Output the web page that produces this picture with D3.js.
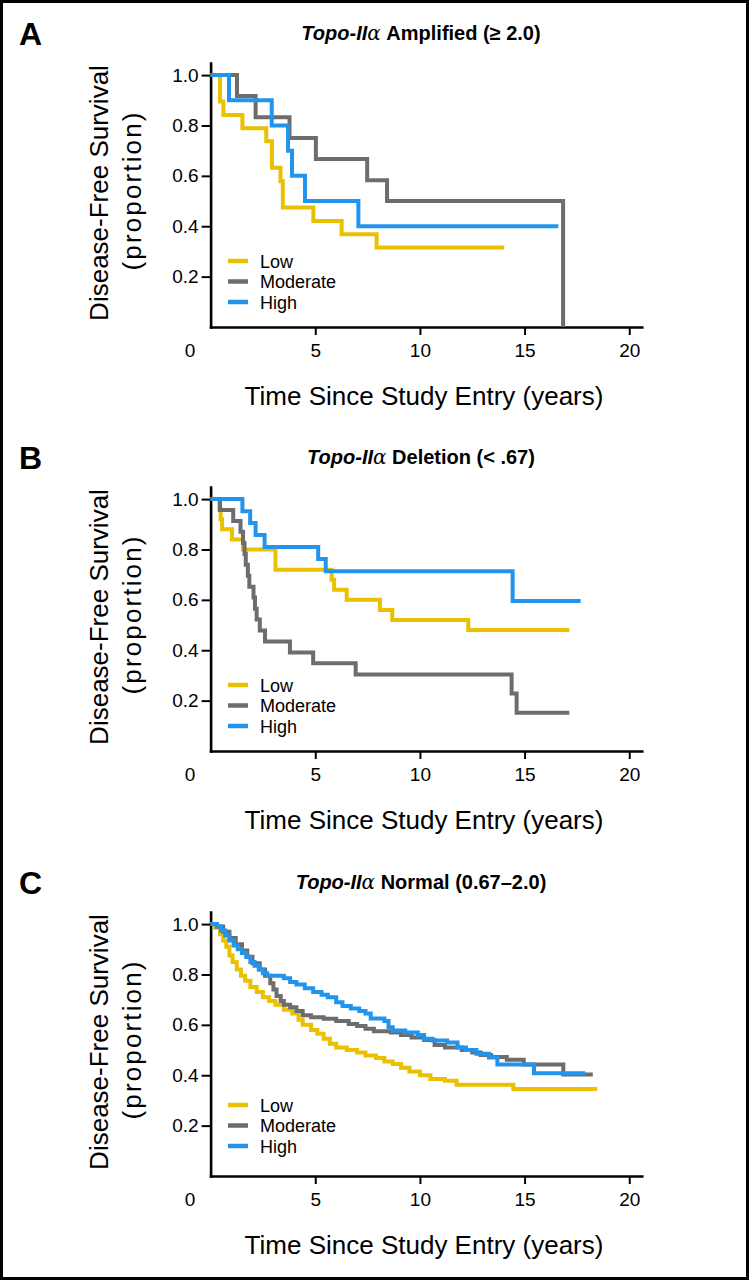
<!DOCTYPE html>
<html><head><meta charset="utf-8">
<script src="https://cdn.jsdelivr.net/npm/d3@7"></script>
<style>body{margin:0;background:#fff}svg{display:block;font-family:"Liberation Sans",Arial,sans-serif}</style>
</head><body>
<svg id="chart" width="749" height="1280"></svg>
<script>
// ---- data ----
const timeTicks = [0, 5, 10, 15, 20];
const survTicks = [0.2, 0.4, 0.6, 0.8, 1.0];
const groups = ["Low", "Moderate", "High"];
const groupColors = ["#EBC000", "#6D6D6D", "#2194EE"];
const panelLetters = ["A", "B", "C"];
const titleItalic = ["Topo-II", "Topo-II", "Topo-II"];
const titleGreek = ["\u03b1", "\u03b1", "\u03b1"];
const titleRest = [" Amplified (\u2265 2.0)", " Deletion (< .67)", " Normal (0.67\u20132.0)"];
const yTitle1 = "Disease-Free Survival";
const yTitle2 = "(proportion)";
const xTitle = "Time Since Study Entry (years)";

// Panel A: amplified  [years, proportion]
const ampLow = [[0,1],[0.45,0.895],[0.61,0.842],[1.52,0.789],[2.66,0.737],[2.93,0.632],[3.34,0.579],[3.45,0.474],[4.91,0.421],[6.26,0.368],[7.93,0.316],[14.03,0.316]];
const ampModerate = [[0,1],[1.26,0.917],[2.15,0.833],[3.77,0.75],[5.03,0.667],[7.48,0.583],[8.43,0.5],[16.84,0]];
const ampHigh = [[0,1],[0.88,0.9],[2.92,0.8],[3.7,0.7],[3.89,0.6],[4.51,0.5],[7.06,0.4],[16.61,0.4]];

// Panel B: deletion
const delLow = [[0,1],[0.42,0.96],[0.48,0.92],[0.55,0.88],[1.02,0.84],[1.55,0.80],[3.1,0.72],[5.78,0.68],[5.9,0.64],[6.5,0.60],[8.09,0.56],[8.68,0.52],[12.31,0.48],[17.14,0.48]];
const delModerate = [[0,1],[0.45,0.957],[1.08,0.913],[1.43,0.870],[1.55,0.826],[1.62,0.783],[1.68,0.739],[1.78,0.696],[1.85,0.652],[2.05,0.609],[2.12,0.565],[2.2,0.522],[2.35,0.478],[2.6,0.435],[3.79,0.391],[4.9,0.348],[6.93,0.304],[14.38,0.228],[14.62,0.152],[17.14,0.152]];
const delHigh = [[0,1],[1.52,0.952],[1.89,0.905],[2.15,0.857],[2.58,0.81],[5.14,0.762],[5.5,0.714],[14.43,0.595],[17.68,0.595]];

// Panel C: normal
const normLow = [[0,1],[0.2,0.985],[0.45,0.96],[0.6,0.935],[0.75,0.91],[0.9,0.875],[1.05,0.85],[1.25,0.82],[1.45,0.795],[1.65,0.775],[1.9,0.75],[2.2,0.73],[2.5,0.71],[2.8,0.695],[3.1,0.68],[3.5,0.66],[3.9,0.645],[4.2,0.62],[4.4,0.6],[4.8,0.58],[5.1,0.565],[5.4,0.545],[5.7,0.525],[6.0,0.51],[6.5,0.5],[7.0,0.49],[7.4,0.478],[7.9,0.468],[8.3,0.455],[8.7,0.445],[9.1,0.43],[9.5,0.415],[10.0,0.4],[10.5,0.385],[11.2,0.378],[11.75,0.362],[14.46,0.345],[18.47,0.345]];
const normModerate = [[0,1],[0.3,0.99],[0.6,0.97],[0.9,0.945],[1.2,0.92],[1.5,0.895],[1.75,0.87],[2.0,0.845],[2.35,0.82],[2.6,0.795],[2.85,0.765],[3.0,0.74],[3.15,0.715],[3.35,0.695],[3.5,0.68],[3.8,0.67],[4.1,0.655],[4.4,0.638],[4.8,0.63],[5.4,0.624],[6.0,0.615],[6.6,0.603],[7.0,0.595],[7.4,0.585],[7.8,0.575],[8.6,0.57],[9.1,0.56],[9.6,0.55],[10.2,0.54],[10.7,0.52],[11.2,0.51],[12.0,0.5],[12.5,0.49],[12.9,0.48],[13.4,0.472],[14.15,0.461],[14.96,0.443],[16.85,0.403],[18.26,0.403]];
const normHigh = [[0,1],[0.3,0.99],[0.5,0.975],[0.7,0.955],[0.9,0.935],[1.1,0.915],[1.3,0.9],[1.5,0.885],[1.7,0.87],[1.9,0.85],[2.1,0.835],[2.3,0.82],[2.5,0.805],[2.7,0.795],[3.5,0.785],[3.8,0.77],[4.1,0.76],[4.5,0.745],[4.9,0.73],[5.3,0.72],[5.6,0.71],[6.0,0.69],[6.3,0.675],[6.7,0.665],[7.1,0.655],[7.4,0.645],[7.65,0.625],[8.3,0.615],[8.5,0.59],[8.7,0.578],[9.3,0.57],[9.9,0.56],[10.2,0.545],[10.6,0.538],[11.3,0.53],[11.8,0.51],[12.2,0.5],[12.7,0.485],[13.3,0.47],[13.7,0.443],[15.45,0.408],[17.9,0.408]];

const panelSeries = [
  [ampLow, ampModerate, ampHigh],
  [delLow, delModerate, delHigh],
  [normLow, normModerate, normHigh]
];

// ---- layout ----
const panelOffsets = [0, 424, 849];
const legendTops = [261, 685, 1105];

const svg = d3.select("#chart");
svg.append("rect").attr("x",0).attr("y",0).attr("width",749).attr("height",1280).attr("fill","#fff");
svg.append("rect").attr("x",1.5).attr("y",1.5).attr("width",746).attr("height",1277)
  .attr("fill","none").attr("stroke","#000").attr("stroke-width",3);

const x = d3.scaleLinear().domain([0, 20.6]).range([210.6, 641.8]);

panelSeries.forEach((series, p) => {
  const off = panelOffsets[p];
  const y = d3.scaleLinear().domain([0, 1.048]).range([327 + off, 63 + off]);
  const g = svg.append("g");

  // panel letter
  g.append("text").attr("x", 19).attr("y", 45 + off)
    .attr("font-size", 32).attr("font-weight", "bold").text(panelLetters[p]);

  // title
  const t = g.append("text").attr("x", 421).attr("y", 40 + off)
    .attr("text-anchor", "middle").attr("font-size", 20).attr("font-weight", "bold");
  t.append("tspan").attr("font-style", "italic").text(titleItalic[p]);
  t.append("tspan").attr("font-style", "italic").attr("font-weight", "normal")
    .attr("font-family", "DejaVu Serif, serif").text(titleGreek[p]);
  t.append("tspan").text(titleRest[p]);

  // y axis
  const ya = g.append("g").attr("transform", `translate(${x(0)},0)`)
    .call(d3.axisLeft(y).tickValues(survTicks).tickFormat(d3.format(".1f"))
      .tickSize(9).tickSizeOuter(0).tickPadding(3));
  ya.select(".domain").attr("stroke-width", 2.6).attr("stroke-linecap", "square");
  ya.selectAll(".tick line").attr("stroke-width", 2);
  ya.selectAll(".tick text").attr("font-size", 19).attr("font-family", "Liberation Sans, Arial, sans-serif").attr("fill", "#000");

  // x axis
  const xa = g.append("g").attr("transform", `translate(0,${y(0)})`)
    .call(d3.axisBottom(x).tickValues(timeTicks).tickFormat(d3.format("d"))
      .tickSize(8).tickSizeOuter(0).tickPadding(8.5));
  xa.select(".domain").attr("stroke-width", 2.6).attr("stroke-linecap", "square");
  xa.selectAll(".tick line").attr("stroke-width", 2);
  xa.selectAll(".tick text").attr("font-size", 19).attr("font-family", "Liberation Sans, Arial, sans-serif").attr("fill", "#000");
  xa.selectAll(".tick").filter(d => d === 0).each(function() {
    d3.select(this).select("line").remove();
    d3.select(this).select("text").attr("x", -21);
  });

  // axis titles
  g.append("text").attr("transform", `translate(108,${193 + off}) rotate(-90)`)
    .attr("text-anchor", "middle").attr("font-size", 26).text(yTitle1);
  g.append("text").attr("transform", `translate(141,${191.5 + off}) rotate(-90)`)
    .attr("text-anchor", "middle").attr("font-size", 26)
    .attr("textLength", 158).attr("lengthAdjust", "spacing").text(yTitle2);
  g.append("text").attr("x", 424).attr("y", 405 + off)
    .attr("text-anchor", "middle").attr("font-size", 26).text(xTitle);

  // curves
  const line = d3.line().x(d => x(d[0])).y(d => y(d[1])).curve(d3.curveStepAfter);
  series.forEach((s, i) => {
    g.append("path").datum(s).attr("d", line)
      .attr("fill", "none").attr("stroke", groupColors[i]).attr("stroke-width", 4);
  });

  // legend
  groups.forEach((name, i) => {
    const ly = legendTops[p] + i * 20.5;
    g.append("line").attr("x1", 228).attr("x2", 248).attr("y1", ly).attr("y2", ly)
      .attr("stroke", groupColors[i]).attr("stroke-width", 4.5);
    g.append("text").attr("x", 260).attr("y", ly + 6.5).attr("font-size", 18).text(name);
  });
});
</script>
</body></html>
